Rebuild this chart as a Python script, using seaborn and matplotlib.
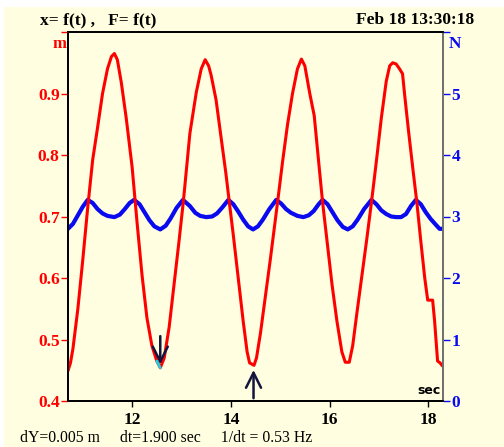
import matplotlib
matplotlib.use("Agg")
import matplotlib.pyplot as plt
from matplotlib.patches import Rectangle
import numpy as np
import pandas as pd
import seaborn as sns

# ---------------- data ----------------
pos_t = [10.70, 10.75, 10.80, 10.90, 11.00, 11.10, 11.20, 11.30, 11.40, 11.50, 11.58, 11.64,
         11.70, 11.78, 11.88, 12.00, 12.10, 12.20, 12.30, 12.40, 12.50, 12.57, 12.65, 12.75,
         12.85, 12.95, 13.04, 13.17, 13.30, 13.40, 13.48, 13.55, 13.60, 13.70, 13.80, 13.90,
         13.97, 14.05, 14.15, 14.25, 14.33, 14.38, 14.47, 14.52, 14.60, 14.70, 14.80, 14.95,
         15.05, 15.15, 15.25, 15.35, 15.43, 15.50, 15.60, 15.69, 15.81, 15.86, 15.95, 16.05,
         16.15, 16.25, 16.32, 16.40, 16.47, 16.55, 16.65, 16.75, 16.85, 16.95, 17.05, 17.15,
         17.22, 17.28, 17.35, 17.42, 17.48, 17.52, 17.60, 17.70, 17.77, 17.85, 17.93, 17.99,
         18.09, 18.13, 18.19, 18.24, 18.29]
pos_m = [0.449, 0.462, 0.485, 0.550, 0.630, 0.715, 0.792, 0.845, 0.900, 0.940, 0.960, 0.965,
         0.955, 0.918, 0.860, 0.780, 0.690, 0.605, 0.535, 0.490, 0.465, 0.454, 0.470, 0.520,
         0.590, 0.660, 0.726, 0.835, 0.902, 0.940, 0.955, 0.945, 0.930, 0.890, 0.830, 0.770,
         0.723, 0.670, 0.600, 0.530, 0.480, 0.462, 0.458, 0.470, 0.510, 0.570, 0.630, 0.725,
         0.790, 0.850, 0.900, 0.940, 0.956, 0.945, 0.900, 0.864, 0.764, 0.723, 0.660, 0.590,
         0.530, 0.480, 0.463, 0.463, 0.490, 0.540, 0.600, 0.660, 0.723, 0.790, 0.860, 0.920,
         0.945, 0.950, 0.948, 0.940, 0.932, 0.900, 0.840, 0.770, 0.723, 0.660, 0.600, 0.564,
         0.564, 0.530, 0.465, 0.462, 0.457]

force_t = [10.70, 10.80, 10.90, 11.00, 11.10, 11.20, 11.30, 11.40, 11.50, 11.64, 11.75, 11.85,
           11.95, 12.04, 12.15, 12.25, 12.35, 12.45, 12.57, 12.68, 12.78, 12.90, 13.03, 13.17,
           13.28, 13.38, 13.50, 13.62, 13.72, 13.83, 13.95, 14.05, 14.15, 14.25, 14.35, 14.45,
           14.55, 14.65, 14.78, 14.92, 15.02, 15.12, 15.22, 15.35, 15.47, 15.58, 15.68, 15.78,
           15.86, 15.96, 16.06, 16.16, 16.27, 16.37, 16.47, 16.57, 16.70, 16.85, 16.95, 17.05,
           17.15, 17.25, 17.35, 17.45, 17.55, 17.65, 17.75, 17.85, 17.95, 18.05, 18.15, 18.23,
           18.30]
force_n = [2.80, 2.88, 3.02, 3.16, 3.27, 3.22, 3.12, 3.05, 3.01, 2.99, 3.03, 3.12,
           3.22, 3.27, 3.20, 3.07, 2.94, 2.84, 2.79, 2.85, 2.97, 3.14, 3.27, 3.17,
           3.06, 3.01, 2.99, 3.00, 3.05, 3.15, 3.27, 3.20, 3.08, 2.95, 2.84, 2.79,
           2.84, 2.95, 3.12, 3.27, 3.21, 3.12, 3.06, 3.01, 2.99, 3.02, 3.09, 3.20,
           3.27, 3.20, 3.07, 2.94, 2.83, 2.79, 2.84, 2.95, 3.12, 3.27, 3.20, 3.10,
           3.04, 3.00, 2.99, 2.99, 3.04, 3.17, 3.27, 3.20, 3.07, 2.96, 2.87, 2.80,
           2.80]

x_ticks = [12, 14, 16, 18]
m_ticks = [0.4, 0.5, 0.6, 0.7, 0.8, 0.9, 1.0]
m_labels = ["0.4", "0.5", "0.6", "0.7", "0.8", "0.9", ""]
n_ticks = [0, 1, 2, 3, 4, 5, 6]
n_labels = ["0", "1", "2", "3", "4", "5", ""]

# cursor markers (time, tip value, tail value)
cursor_down = (12.57, 0.455, 0.510)
cursor_up = (14.46, 0.455, 0.400)
highlight_window = (12.49, 12.62)

title_left = "x= f(t) ,   F= f(t)"
title_right = "Feb 18 13:30:18"
footer = "dY=0.005 m     dt=1.900 sec     1/dt = 0.53 Hz"

# ---------------- style ----------------
sns.set_theme(style="white")
plt.rcParams["font.family"] = ["Liberation Serif", "DejaVu Serif"]

BG = "#FFFEE0"
RED = "#FF0000"
BLUE = "#0A0AF0"
NAVY = "#14143C"

fig = plt.figure(figsize=(5.04, 4.47), dpi=100)
fig.patch.set_facecolor("white")
fig.patches.append(Rectangle((4 / 504, 0), 1, 1 - 7 / 447, transform=fig.transFigure,
                             facecolor=BG, edgecolor="none", zorder=-10))

ax = fig.add_axes([68 / 504, 1 - 401 / 447, (443 - 68) / 504, (401 - 32) / 447])
ax2 = ax.twinx()

df_pos = pd.DataFrame({"t": pos_t, "m": pos_m})
df_force = pd.DataFrame({"t": force_t, "N": force_n})

sns.lineplot(data=df_force, x="t", y="N", ax=ax2, color=BLUE, lw=3.0, sort=False,
             estimator=None)
sns.lineplot(data=df_pos, x="t", y="m", ax=ax, color=RED, lw=2.2, sort=False,
             estimator=None)

# highlight near first cursor
hl = df_pos[(df_pos.t >= highlight_window[0]) & (df_pos.t <= highlight_window[1])]
sns.lineplot(data=hl, x="t", y="m", ax=ax, color="#20D0E0", lw=2.0, sort=False,
             estimator=None)

# red axis drawn above the blue one; background comes from the lower axis
ax2.set_zorder(0)
ax.set_zorder(1)
ax.patch.set_visible(False)
ax2.patch.set_visible(True)
ax2.patch.set_facecolor(BG)

ax.set_xlim(10.7, 18.3)
ax.set_ylim(0.4, 1.0)
ax2.set_ylim(0, 6)

ax.set_xticks(x_ticks)
ax.set_xticklabels([str(v) for v in x_ticks], fontsize=12.5, fontweight="bold", color="black")
ax.set_yticks(m_ticks)
ax.set_yticklabels(m_labels, fontsize=12.5, fontweight="bold", color=RED)
ax2.set_yticks(n_ticks)
ax2.set_yticklabels(n_labels, fontsize=12.5, fontweight="bold", color=BLUE)

ax.tick_params(axis="x", direction="out", length=4, width=1, colors="black", pad=4,
               bottom=True)
ax.tick_params(axis="y", direction="out", length=5, width=1, colors=RED, pad=1, left=True)
ax2.tick_params(axis="y", direction="out", length=5, width=1, colors=BLUE, pad=1, right=True)

ax.set_xlabel("")
ax.set_ylabel("")
ax2.set_ylabel("")

for a in (ax, ax2):
    for s in a.spines.values():
        s.set_linewidth(1.3)
        s.set_color("black")
ax2.spines["right"].set_color("#707070")
ax.spines["right"].set_color("#707070")

# cursors
for cur in (cursor_down, cursor_up):
    ax.annotate("", xy=(cur[0], cur[1]), xytext=(cur[0], cur[2]),
                arrowprops=dict(arrowstyle="->,head_length=0.9,head_width=0.45",
                                color=NAVY, lw=1.8),
                zorder=5, annotation_clip=False)

# axis unit labels
fig.text(59 / 504, 1 - 44 / 447, "m", color=RED, fontsize=12, fontweight="bold",
         ha="center", va="center")
fig.text(455 / 504, 1 - 44 / 447, "N", color=BLUE, fontsize=12.5, fontweight="bold",
         ha="center", va="center")
ax.text(0.995, 0.012, "sec", transform=ax.transAxes, fontsize=9, fontweight="bold",
        ha="right", va="bottom", color="black", family=["DejaVu Sans"], zorder=6)

fig.text(40 / 504, 1 - 20 / 447, title_left, fontsize=12.5, fontweight="bold",
         ha="left", va="center", color="black")
fig.text(474 / 504, 1 - 20 / 447, title_right, fontsize=12.5, fontweight="bold",
         ha="right", va="center", color="black")
fig.text(20 / 504, 1 - 438 / 447, footer, fontsize=11.3, ha="left", va="center",
         color="black")

fig.savefig("out.png", dpi=100, facecolor=fig.get_facecolor())
